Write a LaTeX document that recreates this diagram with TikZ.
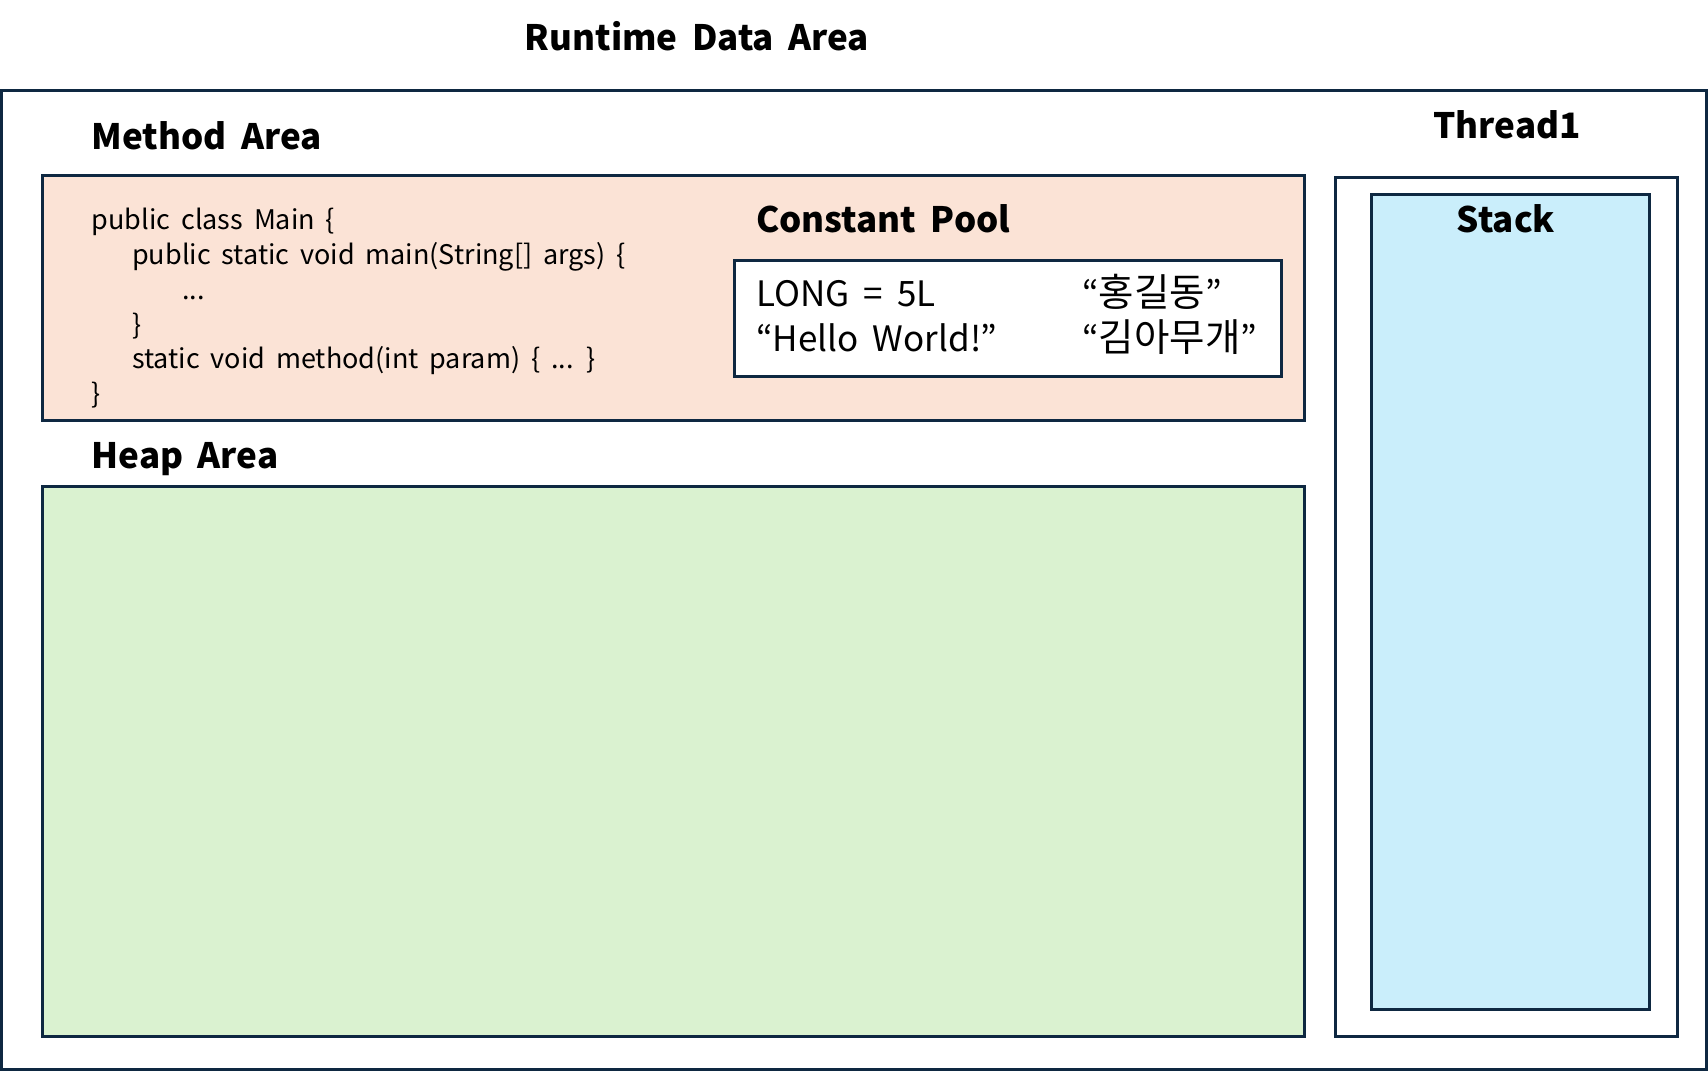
\documentclass[tikz,border=0pt]{standalone}
\usepackage{fontspec}
\setmainfont{Noto Sans CJK KR}
\newfontfamily\kor{Noto Sans CJK KR}[Scale=1.1]
\newfontfamily\wide{Noto Sans CJK KR}[WordSpace=1.8]
\usepackage{tikz}
\usetikzlibrary{positioning}
\definecolor{Frame}{HTML}{0E2841}
\definecolor{Peach}{HTML}{FBE3D6}
\definecolor{Mint} {HTML}{DAF2D0}
\definecolor{Sky}  {HTML}{CAEEFB}

\tikzset{
  areabox/.style={draw=Frame, line width=3pt},
  heading/.style={font=\wide\fontsize{35}{40}\selectfont\bfseries, inner sep=0pt},
  codeline/.style={font=\wide\fontsize{27}{30}\selectfont, inner sep=0pt, anchor=base west},
  poolline/.style={font=\wide\fontsize{35}{40}\selectfont, inner sep=0pt, anchor=base west},
}

\begin{document}
\begin{tikzpicture}[x=1pt, y=-1pt]
  \useasboundingbox (0,0) rectangle (1708,1071);
  % Runtime Data Area
  \draw[areabox] (1.5,90) rectangle (1706.5,1069);
  \node[heading, anchor=base] (rda) at (697,50) {Runtime Data Area};
  % Method Area
  \node[heading, anchor=base west] (method) at (91.5,149) {Method Area};
  \draw[areabox, fill=Peach] (42,175) rectangle (1304,420);
  \node[codeline] (code1) at (91.5,229) {public class Main \{};
  \node[codeline] (code2) at (132,264) {public static void main(String[] args) \{};
  \node[codeline] (code3) at (182,299) {...};
  \node[codeline] (code4) at (132,334) {\}};
  \node[codeline] (code5) at (132,368) {static void method(int param) \{ ... \}};
  \node[codeline] (code6) at (91.5,403) {\}};
  % Constant Pool
  \node[heading, anchor=base west] (pool) at (756,232) {Constant Pool};
  \draw[areabox, fill=white] (734,260) rectangle (1281,376);
  \node[poolline] (long)  at (756,306)  {LONG = 5L};
  \node[poolline] (hello) at (756,351)  {“Hello World!”};
  \node[poolline] (hong)  at (1082,306) {“{\kor 홍길동}”};
  \node[poolline] (kim)   at (1082,351) {“{\kor 김아무개}”};
  % Heap Area
  \node[heading, anchor=base west] (heap) at (91.5,468) {Heap Area};
  \draw[areabox, fill=Mint] (42,486) rectangle (1304,1036);
  % Thread1
  \node[heading, anchor=base] (thread) at (1507,138) {Thread1};
  \draw[areabox] (1335,177) rectangle (1677,1036);
  \draw[areabox, fill=Sky] (1371,194) rectangle (1649,1009);
  \node[heading, anchor=base] (stack) at (1506,232) {Stack};
\end{tikzpicture}
\end{document}
